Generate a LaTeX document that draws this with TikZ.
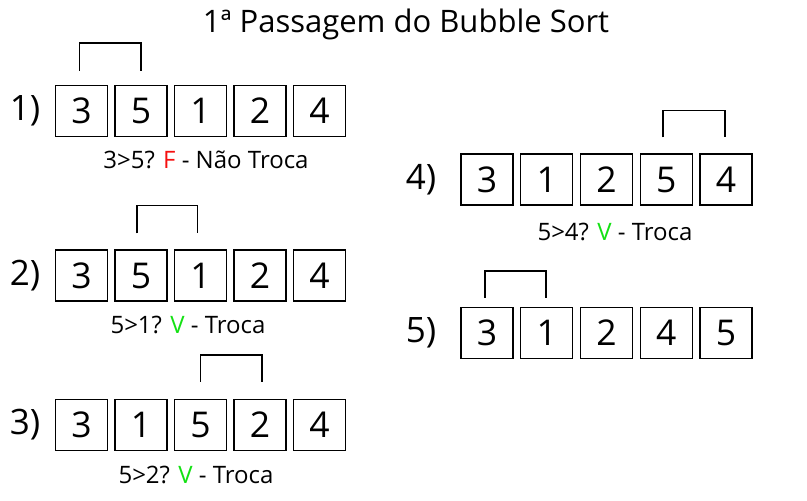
\documentclass[tikz,border=0pt]{standalone}
\usepackage{fontspec}
\setmainfont{Open Sans}
\usetikzlibrary{calc}
\definecolor{vred}{RGB}{245,15,15}
\definecolor{vgreen}{RGB}{20,225,20}
\begin{document}
\begin{tikzpicture}[x=1pt,y=-1pt,
  cell/.style={draw=black,line width=1.4pt,minimum width=52pt,minimum height=51pt,inner sep=0pt,font=\fontsize{35.5}{35.5}\selectfont},
  rowlabel/.style={inner sep=0pt,font=\fontsize{35}{35}\selectfont},
  caption/.style={inner sep=0pt,font=\fontsize{24}{24}\selectfont},
  bracket/.style={draw=black,line width=1.6pt},
  titlestyle/.style={inner sep=0pt,font=\fontsize{31}{31}\selectfont}]
\useasboundingbox (0,0) rectangle (807,501);
\node[titlestyle] (title) at (406,24) {1ª Passagem do Bubble Sort};
\foreach \v [count=\i] in {3,5,1,2,4} \node[cell] (a\i) at ({81.5+59.5*(\i-1)},111) {\v};
\foreach \v [count=\i] in {3,5,1,2,4} \node[cell] (b\i) at ({81.5+59.5*(\i-1)},275.5) {\v};
\foreach \v [count=\i] in {3,1,5,2,4} \node[cell] (c\i) at ({81.5+59.5*(\i-1)},425) {\v};
\foreach \v [count=\i] in {3,1,2,5,4} \node[cell] (d\i) at ({487+59.75*(\i-1)},179.5) {\v};
\foreach \v [count=\i] in {3,1,2,4,5} \node[cell] (e\i) at ({487+59.75*(\i-1)},333) {\v};
\node[rowlabel] (l1) at (25,111) {1)};
\node[rowlabel] (l2) at (25,275.5) {2)};
\node[rowlabel] (l3) at (25,425) {3)};
\node[rowlabel] (l4) at (421,179.5) {4)};
\node[rowlabel] (l5) at (421,333) {5)};
\node[caption] (t1) at (206,160) {3>5? \textcolor{vred}{F} - Não Troca};
\node[caption] (t2) at (188,325) {5>1? \textcolor{vgreen}{V} - Troca};
\node[caption] (t3) at (196,475) {5>2? \textcolor{vgreen}{V} - Troca};
\node[caption] (t4) at (615,232) {5>4? \textcolor{vgreen}{V} - Troca};
\draw[bracket] ($(a1.north)+(-2,-14)$) |- ($(a2.north)+(0,-42)$) -- ($(a2.north)+(0,-14)$);
\draw[bracket] ($(b2.north)+(-4,-16)$) |- ($(b3.north)+(-3,-44)$) -- ($(b3.north)+(-3,-16)$);
\draw[bracket] ($(c3.north)+(0,-17)$) |- ($(c4.north)+(2,-44)$) -- ($(c4.north)+(2,-17)$);
\draw[bracket] ($(d4.north)+(-3,-16)$) |- ($(d5.north)+(-1,-43)$) -- ($(d5.north)+(-1,-16)$);
\draw[bracket] ($(e1.north)+(-2,-9)$) |- ($(e2.north)+(-1,-36)$) -- ($(e2.north)+(-1,-9)$);
\end{tikzpicture}
\end{document}
